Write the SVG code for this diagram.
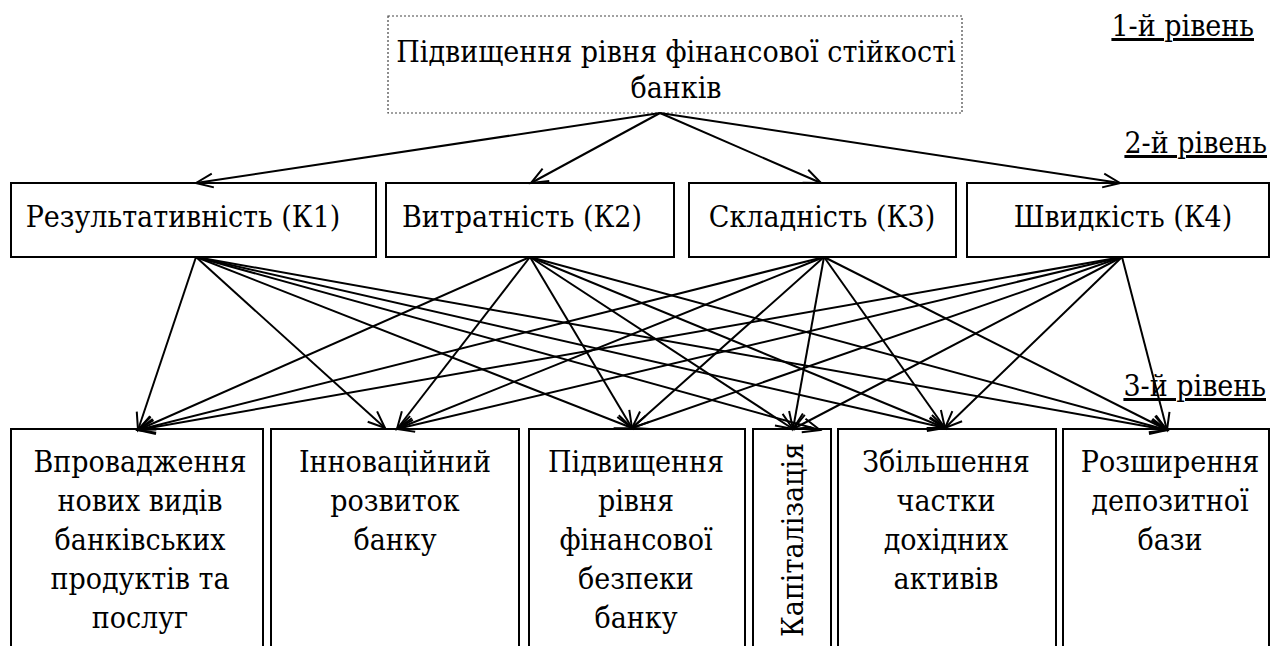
<svg xmlns="http://www.w3.org/2000/svg" width="1272" height="646" viewBox="0 0 1272 646">
  <style>
    text { font-family: "DejaVu Serif Condensed", "DejaVu Serif", serif; font-stretch: condensed; font-size: 30px; fill: #000; }
    .c { text-anchor: middle; }
    .r { text-anchor: end; }
    .lvl { text-decoration: underline; }
    .box { fill: #fff; stroke: #000; stroke-width: 2; }
    .goal { fill: #fff; stroke: #444; stroke-width: 1.2; stroke-dasharray: 2 2; }
    .edge { fill: none; stroke: #000; stroke-width: 2; marker-end: url(#arrow); }
  </style>
  <defs>
    <marker id="arrow" markerUnits="userSpaceOnUse" markerWidth="22" markerHeight="18" viewBox="0 0 22 18" refX="19" refY="9" orient="auto">
      <path d="M2,2 L19,9 L2,16" fill="none" stroke="#000" stroke-width="2"/>
    </marker>
  </defs>
  <rect width="1272" height="646" fill="#fff"/>

  <!-- level captions -->
  <g id="levels">
    <text class="lvl r" x="1254" y="36">1-й рівень</text>
    <text class="lvl r" x="1267" y="153">2-й рівень</text>
    <text class="lvl r" x="1266" y="396">3-й рівень</text>
  </g>

  <!-- level 1: goal -->
  <g id="goal">
    <rect class="goal" x="388" y="16" width="574" height="97"/>
    <text class="c" x="676" y="62">Підвищення рівня фінансової стійкості</text>
    <text class="c" x="676" y="98">банків</text>
  </g>

  <!-- level 2: criteria -->
  <g id="k1"><rect class="box" x="11" y="183" width="365" height="74"/><text class="c" x="183" y="227">Результативність (К1)</text></g>
  <g id="k2"><rect class="box" x="386" y="183" width="288" height="74"/><text class="c" x="522" y="227">Витратність (К2)</text></g>
  <g id="k3"><rect class="box" x="689" y="183" width="267" height="74"/><text class="c" x="822" y="227">Складність (К3)</text></g>
  <g id="k4"><rect class="box" x="967" y="183" width="302" height="74"/><text class="c" x="1123" y="227">Швидкість (К4)</text></g>

  <!-- level 3: alternatives -->
  <g id="a1">
    <rect class="box" x="11" y="429" width="252" height="230"/>
    <text class="c" x="140"><tspan x="140" y="472">Впровадження</tspan><tspan x="140" y="511">нових видів</tspan><tspan x="140" y="550">банківських</tspan><tspan x="140" y="589">продуктів та</tspan><tspan x="140" y="628">послуг</tspan></text>
  </g>
  <g id="a2">
    <rect class="box" x="271" y="429" width="248" height="230"/>
    <text class="c" x="395"><tspan x="395" y="472">Інноваційний</tspan><tspan x="395" y="511">розвиток</tspan><tspan x="395" y="550">банку</tspan></text>
  </g>
  <g id="a3">
    <rect class="box" x="529" y="429" width="216" height="230"/>
    <text class="c" x="636"><tspan x="636" y="472">Підвищення</tspan><tspan x="636" y="511">рівня</tspan><tspan x="636" y="550">фінансової</tspan><tspan x="636" y="589">безпеки</tspan><tspan x="636" y="628">банку</tspan></text>
  </g>
  <g id="a4">
    <rect class="box" x="753" y="429" width="78" height="230"/>
    <text class="c" transform="translate(803,540) rotate(-90)">Капіталізація</text>
  </g>
  <g id="a5">
    <rect class="box" x="838" y="429" width="218" height="230"/>
    <text class="c" x="946"><tspan x="946" y="472">Збільшення</tspan><tspan x="946" y="511">частки</tspan><tspan x="946" y="550">дохідних</tspan><tspan x="946" y="589">активів</tspan></text>
  </g>
  <g id="a6">
    <rect class="box" x="1063" y="429" width="206" height="230"/>
    <text class="c" x="1170"><tspan x="1170" y="472">Розширення</tspan><tspan x="1170" y="511">депозитної</tspan><tspan x="1170" y="550">бази</tspan></text>
  </g>

  <!-- connectors -->
  <g id="connectors">
    <!-- goal to criteria -->
    <line class="edge" x1="660" y1="113" x2="196" y2="183"/>
    <line class="edge" x1="660" y1="113" x2="531" y2="183"/>
    <line class="edge" x1="660" y1="113" x2="821" y2="183"/>
    <line class="edge" x1="660" y1="113" x2="1120" y2="183"/>
    <!-- K1 -->
    <line class="edge" x1="196" y1="257" x2="138" y2="430"/>
    <line class="edge" x1="196" y1="257" x2="385" y2="428"/>
    <line class="edge" x1="196" y1="257" x2="632" y2="428"/>
    <line class="edge" x1="196" y1="257" x2="820" y2="430"/>
    <line class="edge" x1="196" y1="257" x2="945" y2="428"/>
    <line class="edge" x1="196" y1="257" x2="1167" y2="430"/>
    <!-- K2 -->
    <line class="edge" x1="530" y1="257" x2="138" y2="430"/>
    <line class="edge" x1="530" y1="257" x2="397" y2="429"/>
    <line class="edge" x1="530" y1="257" x2="632" y2="428"/>
    <line class="edge" x1="530" y1="257" x2="793" y2="429"/>
    <line class="edge" x1="530" y1="257" x2="945" y2="428"/>
    <line class="edge" x1="530" y1="257" x2="1167" y2="430"/>
    <!-- K3 -->
    <line class="edge" x1="824" y1="257" x2="138" y2="430"/>
    <line class="edge" x1="824" y1="257" x2="397" y2="429"/>
    <line class="edge" x1="824" y1="257" x2="632" y2="428"/>
    <line class="edge" x1="824" y1="257" x2="793" y2="429"/>
    <line class="edge" x1="824" y1="257" x2="945" y2="428"/>
    <line class="edge" x1="824" y1="257" x2="1167" y2="430"/>
    <!-- K4 -->
    <line class="edge" x1="1122" y1="257" x2="138" y2="430"/>
    <line class="edge" x1="1122" y1="257" x2="397" y2="429"/>
    <line class="edge" x1="1122" y1="257" x2="632" y2="428"/>
    <line class="edge" x1="1122" y1="257" x2="793" y2="429"/>
    <line class="edge" x1="1122" y1="257" x2="945" y2="428"/>
    <line class="edge" x1="1122" y1="257" x2="1167" y2="430"/>
  </g>
</svg>
